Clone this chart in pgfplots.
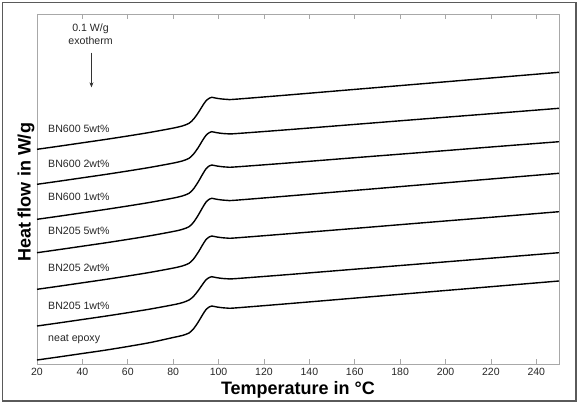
\documentclass[border=0pt]{standalone}
\usepackage{pgfplots}
\pgfplotsset{compat=1.18}
\usetikzlibrary{arrows.meta}
\usepackage{fontspec}
\setmainfont{Liberation Sans}

\definecolor{framegray}{HTML}{5A5A5A}
\definecolor{axisgray}{HTML}{A8A8A8}

\pgfplotsset{dsc/.style={black, no markers, solid, line width=1.4pt, smooth, tension=0.45}}

\begin{document}
\begin{tikzpicture}
\useasboundingbox (-37pt,-41pt) rectangle (542pt,364pt);
% outer frame of the figure
\draw[framegray, line width=1.3pt] (-34.5pt,-37pt) rectangle (539pt,361.5pt);
\begin{axis}[
  at={(0pt,0pt)}, anchor=south west,
  scale only axis, width=522pt, height=350pt,
  xmin=20, xmax=250, ymin=41, ymax=391,
  xtick={20,40,...,240}, ytick=\empty,
  axis line style={axisgray, line width=0.8pt},
  tick style={axisgray, line width=0.8pt},
  major tick length=5pt,
  tick align=inside,
  xtick pos=both,
  xticklabel pos=bottom,
  /pgf/number format/assume math mode=true,
  ticklabel style={font=\fontsize{10.5}{12}\selectfont, text=black!85},
  xticklabel style={yshift=-1pt},
  xlabel={\bfseries Temperature in °C},
  xlabel style={font=\fontsize{18}{20}\selectfont, at={(axis description cs:0.5,-0.074)}, anchor=center},
  ylabel={\bfseries Heat flow in W/g},
  ylabel style={font=\fontsize{18}{20}\selectfont, at={(axis description cs:-0.021,0.49)}, anchor=center},
  clip=false,
]
% BN600 5wt%
\addplot[dsc] coordinates {(20,255.7)(30,258.9)(40,262.2)(50,265.5)(60,269.0)(70,272.7)(80,276.9)(84,279.0)(87,281.7)(89,285.9)(91,292.1)(93,299.4)(94.5,304.3)(96,306.9)(97,307.7)(99,306.8)(101.5,306.0)(104,305.6)(107,305.7)(130,309.9)(160,315.6)(190,321.3)(220,327.0)(250,332.7)};
% BN600 2wt%
\addplot[dsc] coordinates {(20,220.7)(30,223.9)(40,227.2)(50,230.5)(60,234.0)(70,237.7)(80,241.9)(84,244.0)(87,246.7)(89,251.0)(91,257.3)(93,264.8)(94.5,269.8)(96,272.5)(97,273.3)(99,272.4)(101.5,271.6)(104,271.2)(107,271.3)(130,275.2)(160,280.6)(190,286.0)(220,291.3)(250,296.7)};
% BN600 1wt%
\addplot[dsc] coordinates {(20,185.7)(30,188.9)(40,192.2)(50,195.5)(60,199.0)(70,202.7)(80,206.9)(84,209.0)(87,211.7)(89,216.2)(91,223.0)(93,230.9)(94.5,236.3)(96,239.2)(97,240.0)(99,239.1)(101.5,238.3)(104,237.9)(107,238.0)(130,241.9)(160,247.3)(190,252.6)(220,258.0)(250,263.3)};
% BN205 5wt%
\addplot[dsc] coordinates {(20,152.3)(30,155.5)(40,158.8)(50,162.1)(60,165.6)(70,169.3)(80,173.5)(84,175.6)(87,178.3)(89,182.8)(91,189.7)(93,197.6)(94.5,203.0)(96,205.9)(97,206.7)(99,205.8)(101.5,205.0)(104,204.6)(107,204.7)(130,208.9)(160,214.6)(190,220.3)(220,226.0)(250,231.7)};
% BN205 2wt%
\addplot[dsc] coordinates {(20,115.7)(30,118.9)(40,122.2)(50,125.5)(60,129.0)(70,132.7)(80,136.9)(84,139.0)(87,141.7)(89,146.1)(91,152.6)(93,160.3)(94.5,165.5)(96,168.2)(97,169.0)(99,168.1)(101.5,167.3)(104,166.9)(107,167.0)(130,171.1)(160,176.6)(190,182.2)(220,187.7)(250,193.3)};
% BN205 1wt%
\addplot[dsc] coordinates {(20,79.0)(30,82.2)(40,85.5)(50,88.8)(60,92.3)(70,96.0)(80,100.2)(84,102.3)(87,105.0)(89,108.7)(91,114.3)(93,120.8)(94.5,125.3)(96,127.6)(97,128.3)(99,127.4)(101.5,126.6)(104,126.2)(107,126.3)(130,130.3)(160,135.8)(190,141.3)(220,146.8)(250,152.3)};
% neat epoxy
\addplot[dsc] coordinates {(20,45.0)(30,48.2)(40,51.5)(50,54.8)(60,58.5)(70,62.5)(80,67.5)(84,69.5)(87,72.0)(89,76.3)(91,82.8)(93,90.4)(94.5,95.5)(96,98.2)(97,99.0)(99,98.1)(101.5,97.3)(104,96.9)(107,97.0)(130,101.2)(160,106.9)(190,112.6)(220,118.3)(250,124.0)};

% curve labels
\begin{scope}[every node/.style={anchor=west, font=\fontsize{10.6}{12}\selectfont, text=black!85}]
\node at (axis cs:23.4,276.0) {BN600 5wt\%};
\node at (axis cs:23.4,240.7) {BN600 2wt\%};
\node at (axis cs:23.4,208.3) {BN600 1wt\%};
\node at (axis cs:23.4,174.0) {BN205 5wt\%};
\node at (axis cs:23.4,136.7) {BN205 2wt\%};
\node at (axis cs:23.4,99.0) {BN205 1wt\%};
\node at (axis cs:23.4,65.7) {neat epoxy};
\end{scope}

% exotherm scale annotation
\node[font=\fontsize{10.6}{12}\selectfont, text=black!85] at (axis cs:43.6,376.7) {0.1 W/g};
\node[font=\fontsize{10.6}{12}\selectfont, text=black!85] at (axis cs:43.6,364.3) {exotherm};
\draw[-{Stealth[length=5pt,width=4pt]}, line width=0.6pt, black!80] (axis cs:44.0,352.3) -- (axis cs:44.0,317.7);
\end{axis}
\end{tikzpicture}
\end{document}
